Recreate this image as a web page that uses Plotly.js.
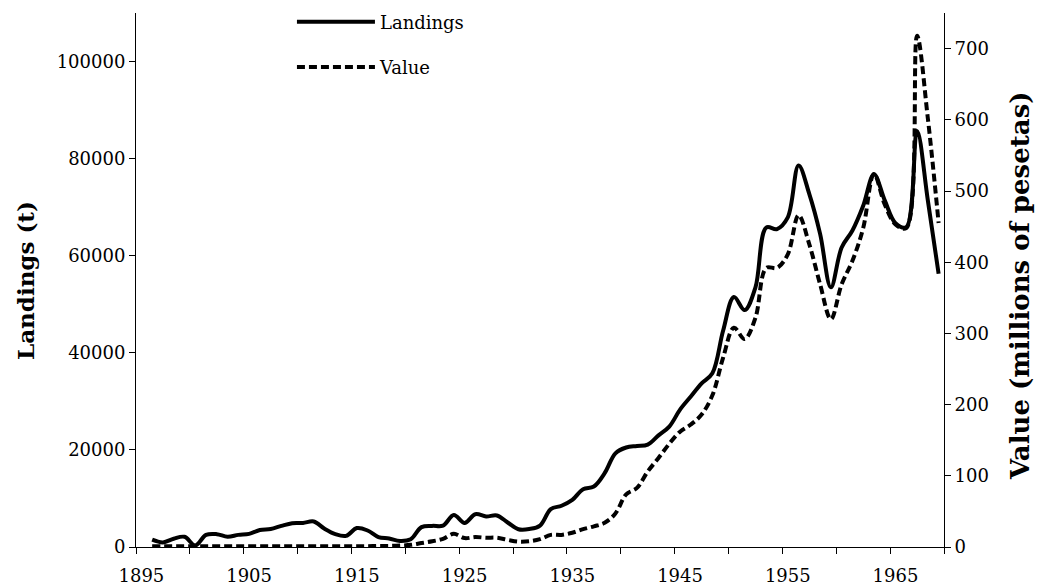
<!DOCTYPE html>
<html>
<head>
<meta charset="utf-8">
<script src="https://cdn.plot.ly/plotly-3.0.1.min.js"></script>
<style>
html,body{margin:0;padding:0;background:#fff;}
#chart{width:1038px;height:588px;}
</style>
</head>
<body>
<div id="chart"></div>
<script>
var years = [1896,1897,1898,1899,1900,1901,1902,1903,1904,1905,1906,1907,1908,1909,1910,
  1911,1912,1913,1914,1915,1916,1917,1918,1919,1920,1921,1922,1923,1924,1925,
  1926,1927,1928,1929,1930,1931,1932,1933,1934,1935,1936,1937,1938,1939,1940,
  1941,1942,1943,1944,1945,1946,1947,1948,1949,1950,1951,1952,1953,1954,1955,
  1956,1957,1958,1959,1960,1961,1962,1963,1964,1965,1966,1967,1968,1969];

var landings = [1500,950,1700,2100,300,2500,2650,2100,2500,2700,3500,3700,4350,4900,4950,
  5250,3750,2650,2300,3900,3400,2050,1750,1250,1600,4100,4350,4400,6600,4950,
  6750,6300,6500,5050,3650,3700,4400,7800,8500,9700,11900,12450,15200,19300,20500,
  20800,21100,23000,24800,28300,31000,33700,35800,44600,51500,48800,53500,65800,65500,67900,
  78600,72700,64500,53500,61700,65200,70300,76800,71400,66700,65900,85700,71400,56300];

var valueMPts = [1,1,1,1,1,1,1,1,1,1,1,1,1,1,1,
  1,1,1,1,1,1,1.5,1.5,2,3,5.5,8,11.5,18.5,12.5,
  14,13,13,10,7.5,8,11,17,17,20,25,29,34,47,74,
  83,106,125,145,162,172,186,213,266,308,292,322,392,392,411,
  466,425,369,320,369,402,448,524,481,453,448,718,602,455];

var xTickVals = [1895,1905,1915,1925,1935,1945,1955,1965];
var xTickText = ['1895','1905','1915','1925','1935','1945','1955','1965'];
var yLeftTicks = [0,20000,40000,60000,80000,100000];
var yLeftTickText = ['0','20000','40000','60000','80000','100000'];
var yRightTicks = [0,100,200,300,400,500,600,700];

var FONT = 'DejaVu Serif, Liberation Serif, serif';

var traces = [
  {
    x: years, y: landings, name: 'Landings', type: 'scatter', mode: 'lines',
    yaxis: 'y', legendgroup: 'a',
    line: {color: '#000', width: 4, shape: 'spline', smoothing: 1},
    hoverinfo: 'skip'
  },
  {
    x: years, y: valueMPts, name: 'Value', type: 'scatter', mode: 'lines',
    yaxis: 'y2', legendgroup: 'b',
    line: {color: '#000', width: 4, shape: 'spline', smoothing: 1, dash: '8px,4px'},
    hoverinfo: 'skip'
  }
];

var layout = {
  width: 1038, height: 588,
  margin: {l: 136, r: 94, t: 13, b: 41, pad: 0, autoexpand: false},
  paper_bgcolor: '#fff', plot_bgcolor: '#fff',
  font: {family: FONT, size: 18, color: '#000'},
  showlegend: true,
  legend: {
    x: 0.193, y: 1.0178, xanchor: 'left', yanchor: 'top',
    bgcolor: 'rgba(0,0,0,0)', borderwidth: 0,
    font: {family: FONT, size: 18, color: '#000'},
    itemwidth: 78, tracegroupgap: 19, orientation: 'v'
  },
  xaxis: {
    range: [1894.5, 1969.5], showgrid: false, zeroline: false,
    showline: true, linecolor: '#000', linewidth: 1,
    tickmode: 'array', tickvals: xTickVals, ticktext: xTickText,
    ticks: '', ticklabelstandoff: 12,
    tickfont: {family: FONT, size: 18, color: '#000'},
    minor: {ticks: 'outside', tickmode: 'linear', tick0: 1894.5, dtick: 5,
            ticklen: 6, tickwidth: 1, tickcolor: '#000', showgrid: false},
    fixedrange: true
  },
  yaxis: {
    range: [0, 110000], showgrid: false, zeroline: false,
    showline: true, linecolor: '#000', linewidth: 1,
    tickmode: 'array', tickvals: yLeftTicks, ticktext: yLeftTickText,
    ticks: 'outside', ticklen: 6, tickwidth: 1, tickcolor: '#000',
    tickfont: {family: FONT, size: 18, color: '#000'},
    fixedrange: true
  },
  yaxis2: {
    range: [0, 750], overlaying: 'y', side: 'right', anchor: 'x',
    showgrid: false, zeroline: false,
    showline: true, linecolor: '#000', linewidth: 1,
    tickmode: 'array', tickvals: yRightTicks,
    ticks: 'outside', ticklen: 6, tickwidth: 1, tickcolor: '#000',
    tickfont: {family: FONT, size: 18, color: '#000'},
    fixedrange: true
  },
  annotations: [
    {
      text: '<b>Landings (t)</b>', xref: 'paper', yref: 'paper',
      x: -0.1374, y: 0.5, xanchor: 'center', yanchor: 'middle',
      textangle: -90, showarrow: false,
      font: {family: FONT, size: 23, color: '#000'}
    },
    {
      text: '<b>Value (millions of pesetas)</b>', xref: 'paper', yref: 'paper',
      x: 1.094, y: 0.4906, xanchor: 'center', yanchor: 'middle',
      textangle: -90, showarrow: false,
      font: {family: FONT, size: 26, color: '#000'}
    }
  ]
};

Plotly.newPlot('chart', traces, layout, {displayModeBar: false, staticPlot: true});
</script>
</body>
</html>
